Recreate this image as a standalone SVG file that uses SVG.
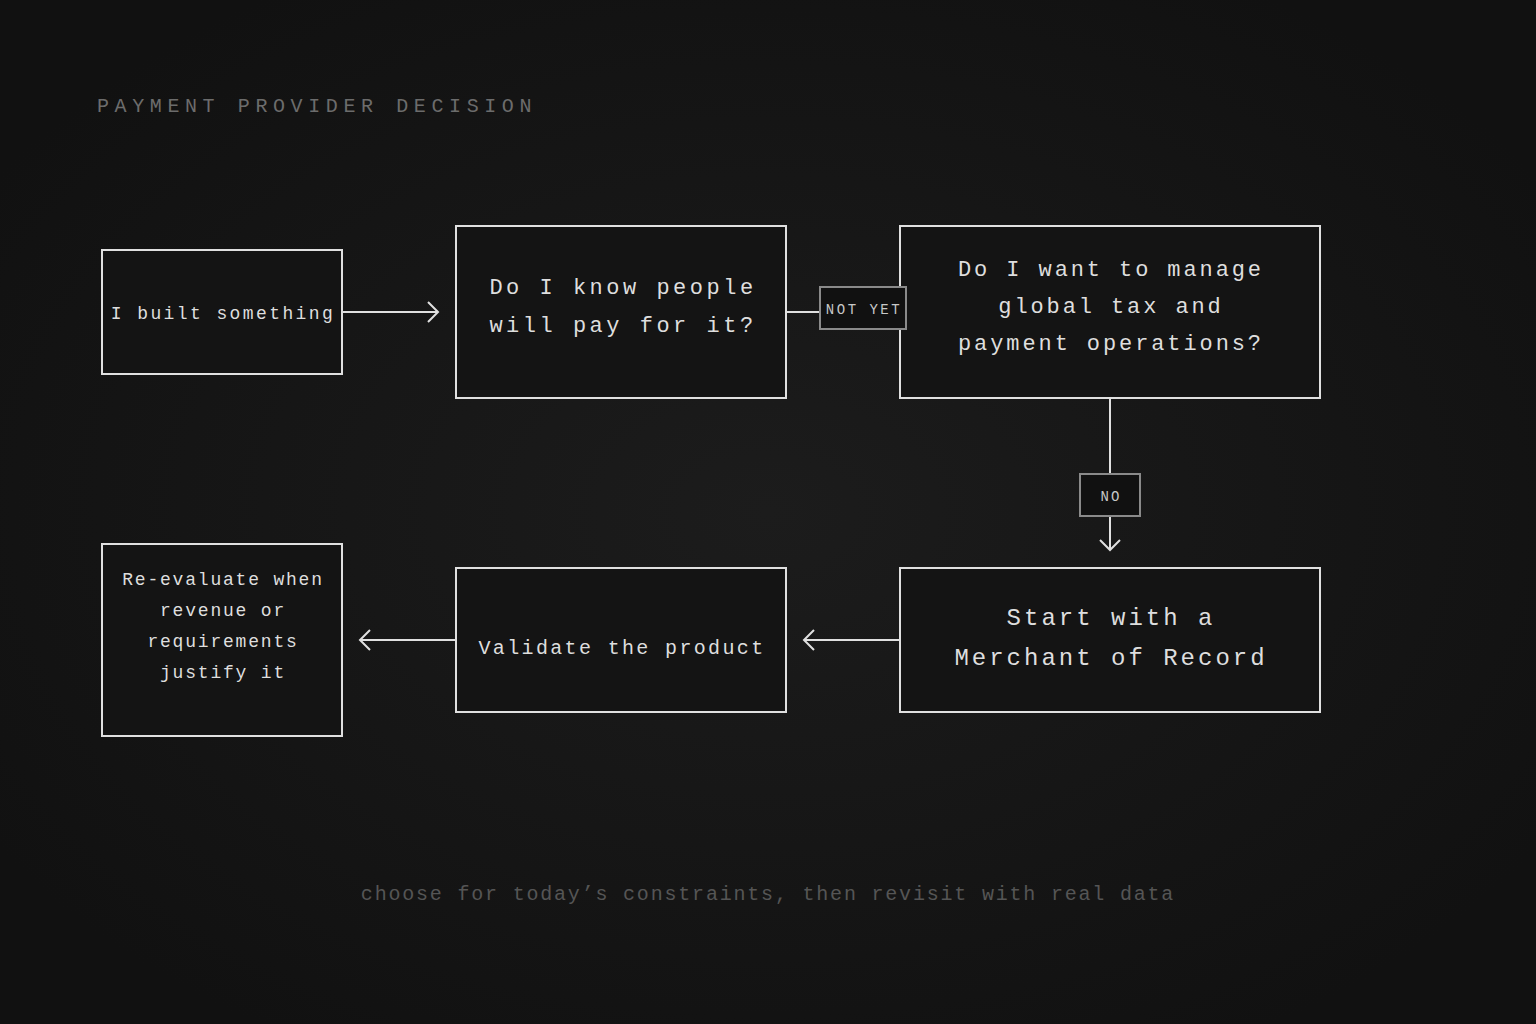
<svg xmlns="http://www.w3.org/2000/svg" width="1536" height="1024" viewBox="0 0 1536 1024">
<defs>
<radialGradient id="bg" cx="50%" cy="50%" r="60%">
<stop offset="0" stop-color="#1c1c1c"/>
<stop offset="1" stop-color="#111111"/>
</radialGradient>
<marker id="arr" viewBox="-12 -12 14 24" refX="0" refY="0" markerWidth="14" markerHeight="24" markerUnits="userSpaceOnUse" orient="auto">
<path d="M-10,-10 L0,0 L-10,10" fill="none" stroke="#e0e0e0" stroke-width="2"/>
</marker>
<style>
.node rect{fill:#141414;stroke:#e0e0e0;stroke-width:2}
.node text{font-family:"Liberation Mono","Courier New",monospace;fill:#dedede;text-anchor:middle}
.edge{stroke:#e0e0e0;stroke-width:2;fill:none}
.lbl rect{fill:#111111;stroke:#8a8a8a;stroke-width:2}
.lbl text{font-family:"Liberation Mono","Courier New",monospace;fill:#c8c8c8;font-size:14px;text-anchor:middle}
</style>
</defs>
<rect width="1536" height="1024" fill="url(#bg)"/>
<text x="97" y="112" font-family="Liberation Mono, Courier New, monospace" font-size="20" letter-spacing="5.6" fill="#6c6c6c">PAYMENT PROVIDER DECISION</text>

<g id="connectors">
<line class="edge" x1="342" y1="312" x2="438" y2="312" marker-end="url(#arr)"/>
<line class="edge" x1="786" y1="312" x2="900" y2="312"/>
<line class="edge" x1="1110" y1="398" x2="1110" y2="550" marker-end="url(#arr)"/>
<line class="edge" x1="900" y1="640" x2="804" y2="640" marker-end="url(#arr)"/>
<line class="edge" x1="456" y1="640" x2="360" y2="640" marker-end="url(#arr)"/>
</g>

<g id="n1" class="node">
<rect x="102" y="250" width="240" height="124"/>
<text x="223" y="319" font-size="18" letter-spacing="2.4">I built something</text>
</g>
<g id="n2" class="node">
<rect x="456" y="226" width="330" height="172"/>
<text font-size="22" letter-spacing="3.5"><tspan x="623" y="294">Do I know people</tspan><tspan x="623" y="332">will pay for it?</tspan></text>
</g>
<g id="n3" class="node">
<rect x="900" y="226" width="420" height="172"/>
<text font-size="22" letter-spacing="2.9"><tspan x="1111" y="276">Do I want to manage</tspan><tspan x="1111" y="313">global tax and</tspan><tspan x="1111" y="350">payment operations?</tspan></text>
</g>
<g id="n4" class="node">
<rect x="900" y="568" width="420" height="144"/>
<text font-size="24" letter-spacing="3"><tspan x="1111" y="625">Start with a</tspan><tspan x="1111" y="665">Merchant of Record</tspan></text>
</g>
<g id="n5" class="node">
<rect x="456" y="568" width="330" height="144"/>
<text x="622" y="654" font-size="20" letter-spacing="2.35">Validate the product</text>
</g>
<g id="n6" class="node">
<rect x="102" y="544" width="240" height="192"/>
<text font-size="18" letter-spacing="1.8"><tspan x="223" y="585">Re-evaluate when</tspan><tspan x="223" y="616">revenue or</tspan><tspan x="223" y="647">requirements</tspan><tspan x="223" y="678">justify it</tspan></text>
</g>

<g id="label-notyet" class="lbl">
<rect x="820" y="287" width="86" height="42"/>
<text x="864" y="314" letter-spacing="2.5">NOT YET</text>
</g>
<g id="label-no" class="lbl">
<rect x="1080" y="474" width="60" height="42"/>
<text x="1111" y="501" letter-spacing="2">NO</text>
</g>

<text x="768" y="900" font-family="Liberation Mono, Courier New, monospace" font-size="20" letter-spacing="1.8" fill="#555555" text-anchor="middle">choose for today’s constraints, then revisit with real data</text>
</svg>
